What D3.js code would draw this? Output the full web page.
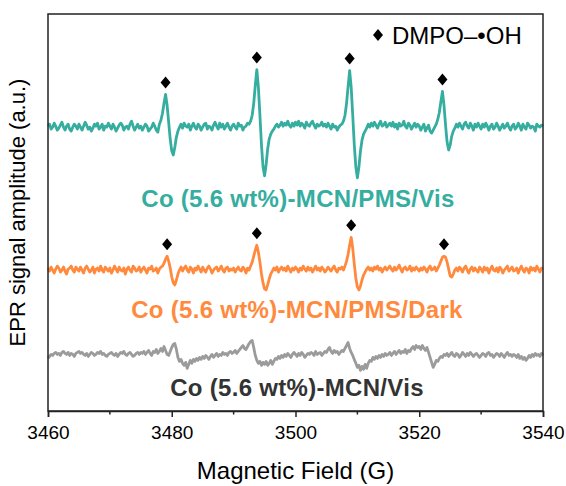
<!DOCTYPE html>
<html>
<head>
<meta charset="utf-8">
<script src="https://cdn.jsdelivr.net/npm/d3@7"></script>
<style>
  body { margin: 0; background: #fff; }
  text { font-family: "Liberation Sans", Arial, Helvetica, sans-serif; }
</style>
</head>
<body>
<svg id="chart" width="566" height="486"></svg>
<script>
// Field sweep: 3460 G to 3540 G in 0.25 G steps (321 points per spectrum)
const fieldStart = 3460;
const fieldStep = 0.25;
const xTicks = [3460, 3480, 3500, 3520, 3540];
const xMinorTicks = [3470, 3490, 3510, 3530];

const seriesNames = [
  "Co (5.6 wt%)-MCN/PMS/Vis",
  "Co (5.6 wt%)-MCN/PMS/Dark",
  "Co (5.6 wt%)-MCN/Vis"
];

// Spectrum amplitudes (a.u.) relative to each trace's baseline; one row = 5 G
const visSignal = [
    1,  3, -2,  0,  4,  1, -3, -1,  2,  5,  0, -3,  1,  3, -2, -4,  0,  3,  1, -2,
    3,  0, -3,  1,  5,  2, -2,  0, -4, -1,  3,  1,  4, -2,  0,  3, -3,  1,  0,  4,
    1, -2,  3,  0, -4, -1,  2,  4,  2, -3,  0,  1, -2,  3,  6,  1, -3,  0,  3, -1,
    1, -3,  0,  3,  1, -4, -2,  0,  4,  1, -3, -5,  3,  7, 14, 24, 33, 22,  5,-12,
  -24,-28,-20,-10, -4,  0,  3, -1,  4,  1,  0,  3, -3,  1,  4,  0, -2,  3,  1, -3,
    0,  3,  4, -2,  1,  0, -3,  2,  5,  1, -2,  4,  0,  3, -2,  1,  4,  0, -3,  1,
    3,  0, -2,  4,  1,  2, -3,  0,  1,  4,  3,  6, 12, 24, 42, 58, 40, 12,-18,-40,
  -49,-38,-22,-12, -7, -4, -2,  1,  3,  0,  2,  5,  1,  4,  2,  6,  2,  0,  4,  1,
    5,  2,  6,  1,  4,  2, -1,  5,  2,  1,  4,  6,  2, -1,  3,  1,  2,  5,  1,  3,
    0,  4,  1, -2,  3,  0,  1, -3,  0,  2,  3,  6, 12, 24, 41, 57, 40, 12,-18,-40,
  -51,-40,-24,-13, -7, -4, -1,  3,  0,  4,  1,  5,  2, -1,  3,  6,  1,  2,  5,  0,
    2,  4,  1,  5,  0,  3, -2,  4,  1,  2,  6,  1, -1,  4,  2, -2,  1,  4,  0,  3,
    1, -3,  0,  3, -4, -1,  2, -4, -6, -3,  0,  3,  8, 15, 26, 36, 22,  2,-15,-23,
  -18, -9, -4, -1,  3,  0,  4,  1, -2,  3,  5,  1, -1,  4,  1, -3,  3,  0,  4,  1,
   -2,  3,  0,  4,  1, -3,  1,  3, -2,  0,  4,  1, -3,  0,  3, -1,  1,  4,  0, -3,
    1,  3, -2,  0,  4,  1, -3,  3,  0, -2,  4,  2, -1,  1,  0, -4,  3,  1,  0,  2,
    1
];

const darkSignal = [
    2, -1,  3,  0, -3,  1,  4,  2, -2,  0,  3, -1, -4,  1,  2,  4,  0, -2,  3,  1,
   -1,  3,  0, -3,  2,  4,  1, -2,  0,  3, -3,  1,  2, -1,  4,  0, -2,  3,  1, -1,
    2, -3,  0,  4,  1, -2,  3,  0, -1,  2, -4,  1,  3,  0, -2,  4,  2, -1,  0,  3,
   -2,  1,  3,  0, -3,  2,  1,  4, -1,  0,  2, -3,  1,  3,  4,  7, 11, 14,  9,  2,
   -7,-13,-15,-10, -4,  0,  3, -1,  2,  4,  0, -2,  3,  1, -3,  2,  0,  4,  1, -2,
    3,  0, -2,  2,  4,  1, -3,  0,  2,  3, -1,  1,  4,  0, -2,  2,  3, -1,  1,  0,
    2, -2,  1,  3,  0, -1,  3,  1, -3,  2,  0,  4,  8, 14, 20, 25, 18,  8, -4,-13,
  -19,-20,-15, -9, -4, -1,  2,  0,  3, -2,  1,  3,  0,  2, -1,  4,  1, -2,  2,  0,
    3,  1, -2,  2,  0,  4,  1, -1,  3,  0,  2, -2,  1,  4,  0,  2, -1,  3,  1, -2,
    0,  3,  1, -1,  2,  4,  0, -2,  2,  1,  3,  0,  4,  9, 16, 25, 33, 22,  6, -8,
  -17,-20,-16,-10, -5, -2,  1,  3,  0,  2, -1,  3,  1,  4,  0,  2, -2,  1,  3,  0,
    2,  4,  1, -1,  3,  0,  2,  5,  1, -2,  2,  3,  0,  1,  4, -1,  2,  0,  3,  1,
   -1,  2,  0,  3,  1, -2,  2,  4,  0,  1,  3, -1,  2,  5,  9, 13, 14, 13,  8,  1,
   -6, -7, -4,  0,  2, -1,  3,  1, -2,  2,  4,  0, -3,  1,  3, -1,  2,  0, -2,  3,
    1, -2,  3,  0,  2, -3,  1,  4,  0, -1,  2, -2,  3,  1, -3,  0,  2,  4, -1,  1,
    3, -1,  0,  2, -3,  1,  4,  0, -2,  2,  1, -3,  3,  0,  2, -1,  4,  1, -2,  2,
    1
];

const controlSignal = [
   -3, -1,  1,  0,  2,  3,  1,  2,  0,  3,  4,  2,  1,  3,  0,  2,  1, -1,  2,  3,
    4,  2,  3,  1,  0,  2, -1,  1,  3,  2,  0,  1,  3,  2,  4,  1,  2,  0, -1,  1,
    2,  3,  1,  0,  2, -1,  1,  3,  2,  4,  1,  0,  2,  3,  1, -1,  0,  2,  3,  1,
    3,  2,  4,  1,  3,  5,  2,  0,  4,  3,  6,  2,  4,  7,  4,  9,  5,  1,  0,  4,
    8, 11, 12,  6, -2, -6, -4, -8,-10, -7,-13, -9, -5, -8, -4, -6, -3, -5, -2, -4,
   -1, -3,  0, -2, -4, -1,  1, -2,  0,  2, -1,  1,  0,  3,  1,  2,  0,  3,  4,  2,
    3,  5,  2,  4,  6,  8, 10,  7,  6,  9, 12, 14, 15,  8,  0, -5, -8, -6,-10, -7,
   -9, -6,-10, -8, -5, -9, -6, -3, -4, -1, -3,  0, -2,  1, -1,  2,  0, -2,  1,  3,
    1, -1,  2,  0,  3,  1, -2,  0,  2,  1,  3,  2,  0,  4,  1,  2,  3,  0,  2,  4,
    3,  6,  8,  4,  2,  5,  3,  4,  1,  3,  5,  4,  7, 10, 13,  7,  3,  0, -4, -8,
  -12,-10,-15,-11,-14, -9,-13, -8, -5, -6, -2, -4, -1, -3,  0, -2,  1, -1,  2,  0,
    1,  3,  0,  2,  4,  1,  3,  5,  2,  4,  3,  6,  2,  5,  4,  7,  9,  6, 10,  8,
    9,  6, 10,  7,  5,  8,  3, -2, -7,-12, -9, -5, -6, -3, -1, -2,  1,  0,  2, -1,
    1,  3,  0, -1,  2,  1, -2,  0,  3,  1, -1,  2,  0,  3,  1, -1,  1,  2,  0, -2,
    0,  2,  1, -1,  2,  3,  0,  1, -2,  0,  2,  1, -1,  2,  0, -2,  1,  3,  0,  1,
   -1,  1,  0, -2,  1, -3, -1, -4, -2, -5, -3,  0, -2,  1, -1,  2,  0,  1, -1,  2,
    0
];

// Vertical stacking offsets of the three spectra (a.u.)
const baselines = [286, 142, 56];

// DMPO–•OH quartet line positions (G)
const markerFields = [3479, 3494, 3509, 3523.7];

const colors = ["#35ad9f", "#ff8a3d", "#9b9b9b"];
const signals = [visSignal, darkSignal, controlSignal];
const fields = visSignal.map((_, i) => fieldStart + i * fieldStep);

const svg = d3.select("#chart");
const margin = { left: 48, right: 23, top: 14, bottom: 75 };
const W = 566, H = 486;
const x = d3.scaleLinear().domain([3460, 3540]).range([margin.left, W - margin.right]);
const y = d3.scaleLinear().domain([0, 400]).range([H - margin.bottom, margin.top]);

// spectra
const line = d3.line().x(d => x(d[0])).y(d => y(d[1]));
signals.forEach((sig, k) => {
  const pts = sig.map((v, i) => [fields[i], v + baselines[k]]);
  svg.append("path")
    .attr("d", line(pts))
    .attr("fill", "none")
    .attr("stroke", colors[k])
    .attr("stroke-width", 2.8)
    .attr("stroke-linejoin", "round");
});

// diamond markers above each quartet line (first two spectra)
const diamond = (cx, cy, w, h) =>
  `M${cx},${cy - h / 2}L${cx + w / 2},${cy}L${cx},${cy + h / 2}L${cx - w / 2},${cy}Z`;
[0, 1].forEach(k => {
  markerFields.forEach(f => {
    let best = -1;
    signals[k].forEach((v, i) => {
      if (Math.abs(fields[i] - f) <= 1 && (best < 0 || v > signals[k][best])) best = i;
    });
    const cx = x(fields[best]);
    const cy = y(signals[k][best] + baselines[k]) - 12;
    svg.append("path").attr("d", diamond(cx, cy, 10, 12)).attr("fill", "#000");
  });
});

// series labels
const labelPos = [[298, 207], [297, 318], [297, 396]];
const labelColors = ["#35ad9f", "#ff8a3d", "#333333"];
seriesNames.forEach((name, k) => {
  svg.append("text")
    .attr("x", labelPos[k][0]).attr("y", labelPos[k][1])
    .attr("text-anchor", "middle")
    .attr("font-size", 24).attr("font-weight", "bold")
    .attr("letter-spacing", 0.3)
    .attr("fill", labelColors[k])
    .text(name);
});

// legend
svg.append("path").attr("d", diamond(378, 35, 10, 12)).attr("fill", "#000");
svg.append("text").attr("x", 392).attr("y", 44)
  .attr("font-size", 24).attr("fill", "#000").text("DMPO–•OH");

// frame
svg.append("rect")
  .attr("x", margin.left).attr("y", margin.top)
  .attr("width", W - margin.left - margin.right)
  .attr("height", H - margin.top - margin.bottom)
  .attr("fill", "none").attr("stroke", "#222").attr("stroke-width", 1.5);

// bottom axis
const xAxis = d3.axisBottom(x).tickValues(xTicks).tickSize(6).tickPadding(9).tickFormat(d3.format("d"));
const gx = svg.append("g").attr("transform", `translate(0,${H - margin.bottom})`).call(xAxis);
gx.select(".domain").attr("stroke", "#222").attr("stroke-width", 1.5);
gx.selectAll(".tick line").attr("stroke", "#222").attr("stroke-width", 1.5);
gx.selectAll(".tick text").attr("font-size", 19).attr("fill", "#000")
  .attr("font-family", '"Liberation Sans", Arial, sans-serif');
gx.selectAll(".minor").data(xMinorTicks).enter().append("line")
  .attr("x1", d => x(d)).attr("x2", d => x(d))
  .attr("y1", 0).attr("y2", 3.5)
  .attr("stroke", "#222").attr("stroke-width", 1.5);

// axis titles
svg.append("text")
  .attr("x", (margin.left + W - margin.right) / 2).attr("y", 479)
  .attr("text-anchor", "middle").attr("font-size", 24).attr("fill", "#000")
  .text("Magnetic Field (G)");
svg.append("text")
  .attr("transform", `translate(25,${(margin.top + H - margin.bottom) / 2}) rotate(-90)`)
  .attr("text-anchor", "middle").attr("font-size", 22).attr("fill", "#000")
  .text("EPR signal amplitude (a.u.)");
</script>
</body>
</html>
